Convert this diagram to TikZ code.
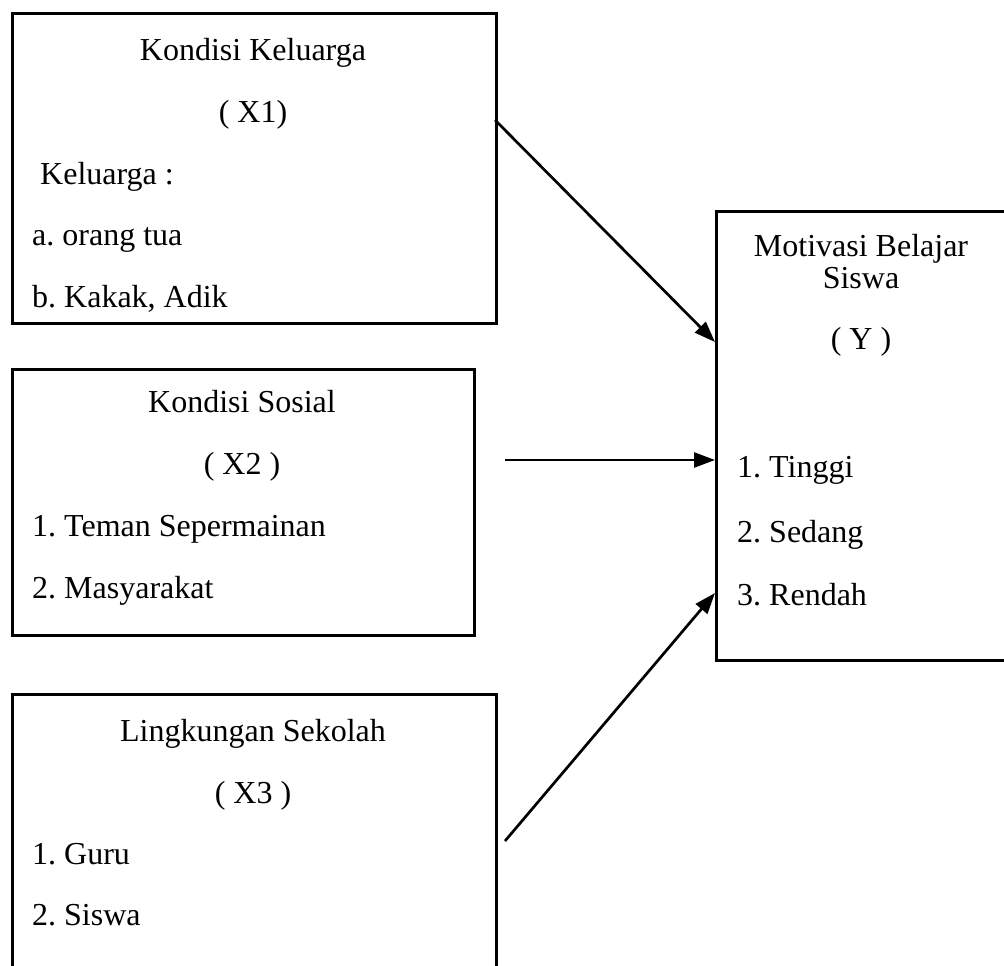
\documentclass[tikz,border=0pt]{standalone}
\usepackage{fontspec}
\setmainfont{Liberation Serif}
\usetikzlibrary{arrows.meta}
\frenchspacing
\begin{document}
\begin{tikzpicture}[x=1pt,y=-1pt,
  box/.style={draw, line width=2.7pt, inner sep=0pt, anchor=north west},
  txt/.style={inner sep=0pt, font=\fontsize{32}{38}\selectfont},
  ctr/.style={txt, anchor=base},
  lft/.style={txt, anchor=base west},
  conn/.style={line width=2.7pt, -{Triangle[length=21pt,width=15pt]}}]
\useasboundingbox (0,0) rectangle (1004,966);
% boxes
\node[box, minimum width=484pt, minimum height=310pt] (b1) at (11,12) {};
\node[box, minimum width=462pt, minimum height=266pt] (b2) at (11,368) {};
\node[box, minimum width=484pt, minimum height=290pt] (b3) at (11,693) {};
\node[box, minimum width=292pt, minimum height=449pt] (by) at (715,210) {};
% box 1 text
\node[ctr] (t11) at (253,60) {Kondisi Keluarga};
\node[ctr] (t12) at (253,122) {( X1)};
\node[lft] (t13) at (40,184) {Keluarga :};
\node[lft] (t14) at (32,245) {a. orang tua};
\node[lft] (t15) at (32,307) {b. Kakak, Adik};
% box 2 text
\node[ctr] (t21) at (242,412) {Kondisi Sosial};
\node[ctr] (t22) at (242,474) {( X2 )};
\node[lft] (t23) at (32,536) {1. Teman Sepermainan};
\node[lft] (t24) at (32,598) {2. Masyarakat};
% box 3 text
\node[ctr] (t31) at (253,741) {Lingkungan Sekolah};
\node[ctr] (t32) at (253,803) {( X3 )};
\node[lft] (t33) at (32,864) {1. Guru};
\node[lft] (t34) at (32,925) {2. Siswa};
% box Y text
\node[ctr] (ty1) at (861,256) {Motivasi Belajar};
\node[ctr] (ty2) at (861,288) {Siswa};
\node[ctr] (ty3) at (861,349) {( Y )};
\node[lft] (ty4) at (737,477) {1. Tinggi};
\node[lft] (ty5) at (737,542) {2. Sedang};
\node[lft] (ty6) at (737,605) {3. Rendah};
% connector end points
\coordinate (a1s) at (495,120);
\coordinate (a1e) at (715,342);
\coordinate (a2s) at (505,460);
\coordinate (a2e) at (715,460);
\coordinate (a3s) at (505,841);
\coordinate (a3e) at (715,593);
\draw[conn] (a1s) -- (a1e);
\draw[conn] (a2s) -- (a2e);
\draw[conn] (a3s) -- (a3e);
\end{tikzpicture}
\end{document}
